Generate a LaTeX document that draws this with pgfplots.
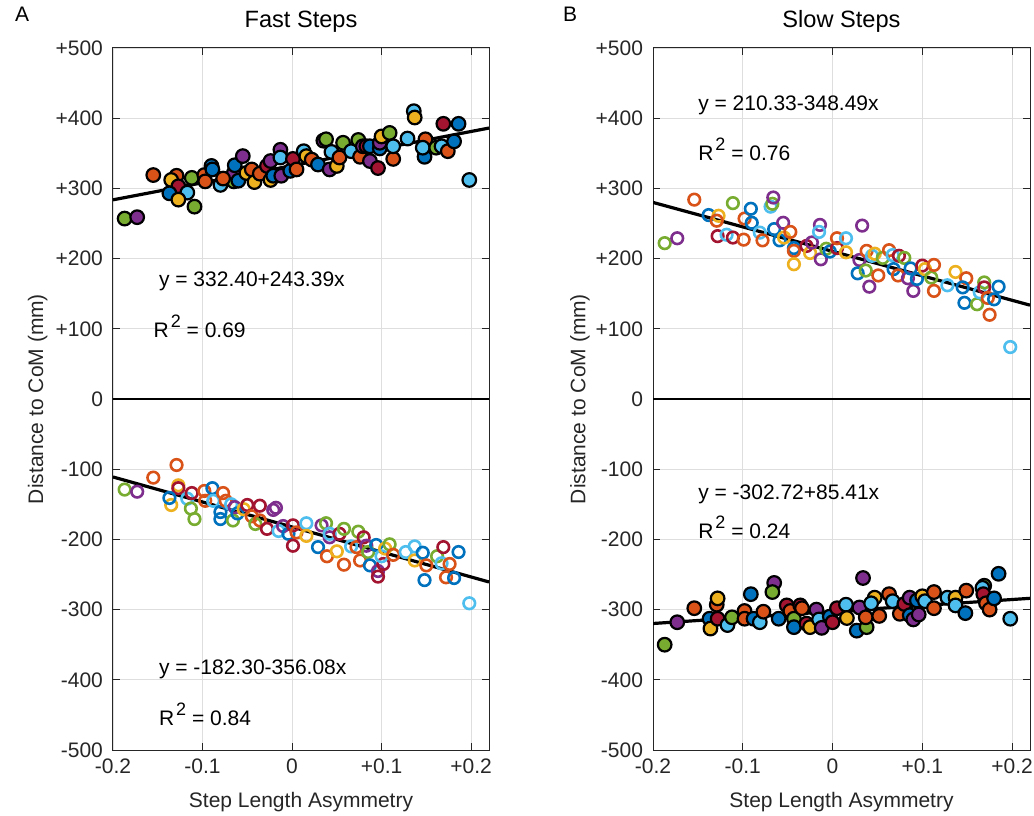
\documentclass[border=0pt]{standalone}
\usepackage{pgfplots}
\pgfplotsset{compat=1.18}
\usepackage{pgfplotstable}
\usepackage{fontspec}
\setmainfont{Liberation Sans}
\definecolor{mb}{RGB}{0,114,189}
\definecolor{mo}{RGB}{217,83,25}
\definecolor{my}{RGB}{237,177,32}
\definecolor{mp}{RGB}{126,47,142}
\definecolor{mg}{RGB}{119,172,48}
\definecolor{mc}{RGB}{77,190,238}
\definecolor{mr}{RGB}{162,20,47}
\definecolor{axc}{RGB}{38,38,38}

\pgfplotstableread{
x y c
-0.187 257 g
-0.173 259 p
-0.155 319 o
-0.129 318 o
-0.135 312 y
-0.127 303 r
-0.137 293 b
-0.117 294 c
-0.127 284 y
-0.109 274 g
-0.112 315 g
-0.098 319 o
-0.090 332 b
-0.089 327 b
-0.097 310 o
-0.080 305 c
-0.065 310 g
-0.065 322 p
-0.064 333 b
-0.077 314 o
-0.060 311 b
-0.055 346 p
-0.051 322 y
-0.045 327 o
-0.042 309 y
-0.036 321 o
-0.028 332 r
-0.024 339 p
-0.024 312 y
-0.021 318 b
-0.013 355 p
-0.013 344 c
-0.012 318 p
-0.002 325 b
0.001 342 r
0.005 327 o
0.013 353 c
0.016 346 y
0.022 341 o
0.029 334 b
0.035 368 p
0.038 370 g
0.042 327 p
0.044 352 c
0.050 332 y
0.053 344 o
0.057 365 g
0.066 353 c
0.074 369 g
0.076 345 o
0.079 360 p
0.083 360 r
0.087 339 p
0.087 360 b
0.096 329 r
0.098 357 b
0.098 365 p
0.100 374 y
0.109 379 g
0.113 342 o
0.113 360 c
0.129 371 c
0.136 410 c
0.137 401 y
0.149 370 o
0.148 345 b
0.146 358 c
0.161 358 g
0.167 360 c
0.174 353 o
0.169 392 r
0.186 392 b
0.181 367 b
0.198 312 c
}\ATop

\pgfplotstableread{
x y c
-0.187 -129 g
-0.173 -132 p
-0.155 -112 o
-0.129 -94 o
-0.127 -123 y
-0.127 -127 r
-0.135 -151 y
-0.137 -141 b
-0.117 -142 c
-0.113 -156 g
-0.109 -171 g
-0.112 -134 r
-0.098 -131 o
-0.097 -145 o
-0.089 -127 b
-0.088 -145 c
-0.080 -161 b
-0.080 -171 b
-0.077 -134 o
-0.074 -145 o
-0.068 -150 c
-0.066 -173 g
-0.064 -154 p
-0.061 -163 b
-0.054 -157 y
-0.050 -151 r
-0.045 -167 o
-0.041 -178 g
-0.036 -152 r
-0.036 -173 o
-0.021 -158 p
-0.018 -155 p
-0.028 -185 r
-0.015 -188 c
-0.010 -181 p
-0.004 -192 b
0.001 -180 r
0.001 -209 r
0.005 -190 o
0.016 -177 c
0.016 -195 y
0.029 -211 b
0.033 -180 p
0.038 -177 g
0.042 -197 p
0.042 -192 c
0.039 -224 o
0.050 -217 y
0.053 -192 r
0.058 -185 g
0.058 -236 o
0.066 -210 c
0.072 -211 o
0.074 -189 g
0.080 -197 r
0.076 -230 o
0.083 -209 p
0.085 -218 g
0.087 -237 b
0.094 -208 b
0.096 -245 p
0.096 -253 r
0.102 -235 r
0.100 -224 c
0.104 -213 y
0.109 -207 g
0.113 -222 o
0.127 -218 c
0.137 -210 c
0.137 -230 y
0.146 -219 b
0.150 -237 o
0.148 -258 b
0.162 -224 g
0.167 -234 c
0.176 -235 o
0.169 -211 r
0.172 -254 o
0.181 -255 b
0.186 -218 b
0.198 -291 c
}\ABot

\pgfplotstableread{
x y c
-0.187 222 g
-0.173 229 p
-0.154 284 o
-0.138 262 b
-0.127 261 y
-0.129 254 o
-0.128 232 r
-0.118 234 c
-0.111 230 r
-0.111 279 g
-0.098 257 o
-0.099 227 o
-0.091 271 b
-0.090 251 b
-0.081 237 c
-0.078 226 o
-0.069 274 c
-0.067 278 g
-0.066 287 p
-0.065 242 b
-0.055 251 p
-0.059 226 b
-0.054 230 y
-0.047 238 o
-0.043 215 b
-0.043 211 o
-0.043 192 y
-0.029 218 r
-0.025 208 y
-0.023 223 p
-0.014 248 p
-0.015 238 c
-0.013 199 p
-0.007 214 g
-0.003 210 b
0.005 215 r
0.005 229 o
0.015 229 c
0.015 209 y
0.033 247 p
0.030 198 p
0.038 211 o
0.028 179 b
0.037 183 g
0.041 160 p
0.044 204 c
0.047 207 y
0.051 176 o
0.056 201 g
0.063 212 o
0.067 205 c
0.074 204 r
0.068 185 b
0.073 176 o
0.080 201 g
0.084 172 p
0.087 186 b
0.090 154 p
0.100 190 r
0.094 171 b
0.103 185 y
0.110 173 g
0.113 191 o
0.113 154 o
0.128 162 c
0.137 181 y
0.149 172 o
0.145 159 b
0.147 137 b
0.161 135 g
0.164 152 c
0.169 166 g
0.169 159 r
0.173 144 o
0.175 120 o
0.180 142 b
0.185 160 b
0.198 74 c
}\BTop

\pgfplotstableread{
x y c
-0.187 -350 g
-0.173 -318 p
-0.154 -298 o
-0.129 -293 o
-0.128 -284 y
-0.137 -313 b
-0.136 -327 y
-0.128 -313 r
-0.117 -322 c
-0.112 -311 g
-0.098 -302 o
-0.098 -313 o
-0.091 -278 b
-0.088 -313 b
-0.081 -318 c
-0.077 -303 o
-0.065 -262 p
-0.067 -275 g
-0.060 -313 b
-0.051 -294 r
-0.047 -302 o
-0.043 -313 g
-0.043 -325 b
-0.036 -294 r
-0.034 -298 o
-0.029 -320 r
-0.025 -325 y
-0.018 -300 p
-0.015 -314 c
-0.012 -326 p
-0.003 -310 b
0.000 -318 r
0.005 -298 r
0.015 -293 c
0.016 -312 y
0.034 -255 p
0.030 -297 p
0.027 -330 b
0.038 -325 g
0.037 -311 o
0.047 -283 y
0.043 -291 c
0.052 -309 o
0.063 -278 o
0.067 -288 c
0.075 -306 o
0.080 -292 r
0.086 -308 b
0.086 -283 p
0.090 -314 p
0.096 -307 p
0.094 -287 b
0.100 -281 y
0.103 -288 c
0.113 -275 o
0.113 -298 o
0.128 -283 c
0.137 -283 y
0.137 -294 c
0.149 -273 o
0.148 -305 b
0.169 -266 g
0.167 -269 c
0.168 -278 r
0.171 -291 o
0.175 -300 o
0.180 -284 b
0.185 -249 b
0.198 -313 c
}\BBot

\pgfplotsset{
  panel/.style={
    scale only axis, height=351pt,
    xmin=-0.2, xmax=0.22, ymin=-500, ymax=500,
    xtick={-0.2,-0.1,0,0.1,0.2}, xticklabels={-0.2,-0.1,0,+0.1,+0.2},
    ytick={-500,-400,-300,-200,-100,0,100,200,300,400,500},
    yticklabels={-500,-400,-300,-200,-100,0,+100,+200,+300,+400,+500},
    tick align=inside, major tick length=3.5pt,
    grid=major, grid style={color=black!13, line width=0.4pt},
    axis line style={color=axc, line width=0.5pt},
    tick style={color=axc, line width=0.5pt},
    tick label style={font=\fontsize{10.5}{12}\selectfont, color=axc},
    xticklabel style={yshift=-1pt},
    yticklabel style={xshift=-1.5pt},
    xlabel={Step Length Asymmetry}, ylabel={Distance to CoM (mm)},
    label style={font=\fontsize{10.5}{12}\selectfont, color=axc},
    xlabel style={at={(axis description cs:0.5,-0.074)}, anchor=center},
    title style={font=\fontsize{11.8}{14}\selectfont, color=black, at={(axis description cs:0.5,1)}, anchor=base, yshift=4pt},
  },
  filled/.style={scatter, only marks, scatter src=explicit symbolic, mark size=3.4pt,
    scatter/classes={
      b={mark=*,fill=mb,draw=black,line width=1.1pt},
      o={mark=*,fill=mo,draw=black,line width=1.1pt},
      y={mark=*,fill=my,draw=black,line width=1.1pt},
      p={mark=*,fill=mp,draw=black,line width=1.1pt},
      g={mark=*,fill=mg,draw=black,line width=1.1pt},
      c={mark=*,fill=mc,draw=black,line width=1.1pt},
      r={mark=*,fill=mr,draw=black,line width=1.1pt}}},
  open/.style={scatter, only marks, scatter src=explicit symbolic, mark size=2.9pt,
    scatter/classes={
      b={mark=o,draw=mb,line width=1.3pt},
      o={mark=o,draw=mo,line width=1.3pt},
      y={mark=o,draw=my,line width=1.3pt},
      p={mark=o,draw=mp,line width=1.3pt},
      g={mark=o,draw=mg,line width=1.3pt},
      c={mark=o,draw=mc,line width=1.3pt},
      r={mark=o,draw=mr,line width=1.3pt}}},
  fit/.style={black, line width=1.6pt, no marks},
}
\newcommand{\txt}{\fontsize{10.5}{12}\selectfont}
\newcommand{\rsq}[1]{R\kern1pt\raisebox{5pt}{\fontsize{9}{9}\selectfont 2} = #1}

\begin{document}
\begin{tikzpicture}
\path[use as bounding box] (0,0) rectangle (517pt,407.5pt);
\node[anchor=base west, font=\txt] at (4pt,396.5pt) {A};
\node[anchor=base west, font=\txt] at (278pt,396.5pt) {B};

\begin{axis}[panel, width=188pt, at={(56.5pt,32.5pt)}, anchor=south west,
  title={Fast Steps}, ylabel style={at={(axis description cs:-0.2,0.5)}, anchor=center}]
\addplot[black, line width=0.6pt, forget plot] coordinates {(-0.2,0) (0.22,0)};
\addplot[filled] table[x=x, y=y, meta=c] {\ATop};
\addplot[open] table[x=x, y=y, meta=c] {\ABot};
\addplot[fit] coordinates {(-0.2,283.72) (0.22,385.95)};
\addplot[fit] coordinates {(-0.2,-111.08) (0.22,-260.64)};
\node[anchor=west, inner sep=0pt, font=\txt] at (axis cs:-0.149,167) {y = 332.40+243.39x};
\node[anchor=west, inner sep=0pt, font=\txt] at (axis cs:-0.155,103) {\rsq{0.69}};
\node[anchor=west, inner sep=0pt, font=\txt] at (axis cs:-0.149,-385) {y = -182.30-356.08x};
\node[anchor=west, inner sep=0pt, font=\txt] at (axis cs:-0.149,-449) {\rsq{0.84}};
\end{axis}

\begin{axis}[panel, width=188.5pt, at={(326.5pt,32.5pt)}, anchor=south west,
  title={Slow Steps}, ylabel style={at={(axis description cs:-0.194,0.5)}, anchor=center}]
\addplot[black, line width=0.6pt, forget plot] coordinates {(-0.2,0) (0.22,0)};
\addplot[open] table[x=x, y=y, meta=c] {\BTop};
\addplot[filled] table[x=x, y=y, meta=c] {\BBot};
\addplot[fit] coordinates {(-0.2,280.03) (0.22,133.66)};
\addplot[fit] coordinates {(-0.2,-319.80) (0.22,-283.93)};
\node[anchor=west, inner sep=0pt, font=\txt] at (axis cs:-0.150,418) {y = 210.33-348.49x};
\node[anchor=west, inner sep=0pt, font=\txt] at (axis cs:-0.150,355) {\rsq{0.76}};
\node[anchor=west, inner sep=0pt, font=\txt] at (axis cs:-0.150,-136) {y = -302.72+85.41x};
\node[anchor=west, inner sep=0pt, font=\txt] at (axis cs:-0.150,-183) {\rsq{0.24}};
\end{axis}
\end{tikzpicture}
\end{document}
